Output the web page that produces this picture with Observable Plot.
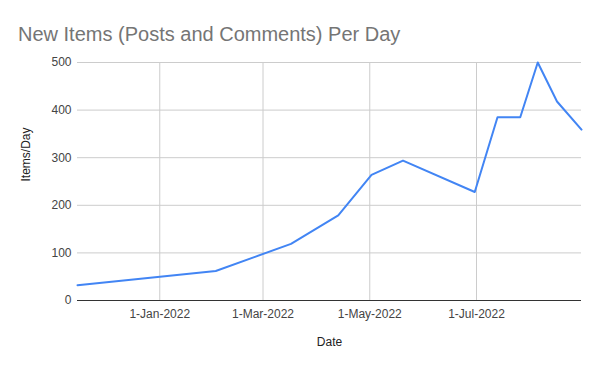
<!DOCTYPE html>
<html>
<head>
<meta charset="utf-8">
<script src="https://cdn.jsdelivr.net/npm/d3@7"></script>
<script src="https://cdn.jsdelivr.net/npm/@observablehq/plot@0.6"></script>
<style>
  html, body { margin: 0; padding: 0; background: #fff; }
  #wrap { position: relative; width: 600px; height: 371px; font-family: "Liberation Sans", Arial, sans-serif; }
  #title { position: absolute; left: 18px; top: 23px; font-size: 20px; line-height: 23px; color: #757575; white-space: nowrap; }
  #chart { position: absolute; left: 0; top: 50px; }
</style>
</head>
<body>
<div id="wrap">
  <div id="title">New Items (Posts and Comments) Per Day</div>
  <div id="chart"></div>
</div>
<script>
const dates = ["2021-11-15","2022-02-02","2022-03-17","2022-04-13","2022-05-02","2022-05-20","2022-06-30","2022-07-13","2022-07-26","2022-08-05","2022-08-16","2022-08-30"];
const itemsPerDay = [32, 62, 119, 179, 264, 294, 228, 385, 385, 500, 418, 359];
const xTickDates = ["2022-01-01","2022-03-01","2022-05-01","2022-07-01"];
const yTicks = [0, 100, 200, 300, 400, 500];

const data = dates.map((d, i) => ({date: new Date(d + "T00:00:00Z"), value: itemsPerDay[i]}));
const xTicks = xTickDates.map(d => new Date(d + "T00:00:00Z"));
const fmt = d3.utcFormat("%-d-%b-%Y");

const chart = Plot.plot({
  width: 600,
  height: 321,
  marginTop: 12,
  marginBottom: 71,
  marginLeft: 77,
  marginRight: 19,
  style: {fontFamily: "Liberation Sans, Arial, sans-serif", fontSize: "12px", color: "#444", background: "#fff"},
  x: {type: "utc", domain: [data[0].date, data[data.length - 1].date]},
  y: {domain: [0, 500]},
  marks: [
    Plot.gridY(yTicks.filter(v => v > 0), {stroke: "#cccccc", strokeOpacity: 1}),
    Plot.gridX(xTicks, {stroke: "#cccccc", strokeOpacity: 1}),
    Plot.axisY(yTicks, {tickSize: 0, tickPadding: 6, label: null, fill: "#444"}),
    Plot.axisX(xTicks, {tickSize: 0, tickPadding: 9, tickFormat: fmt, label: null, fill: "#444"}),
    Plot.ruleY([0], {stroke: "#333", strokeWidth: 1}),
    Plot.line(data, {x: "date", y: "value", stroke: "#4285F4", strokeWidth: 2}),
    Plot.text(["Items/Day"], {frameAnchor: "left", dx: -51, rotate: -90, fill: "#222", fontSize: 12}),
    Plot.text(["Date"], {frameAnchor: "bottom", dy: 45, fill: "#222", fontSize: 12})
  ]
});
document.getElementById("chart").appendChild(chart);
</script>
</body>
</html>
